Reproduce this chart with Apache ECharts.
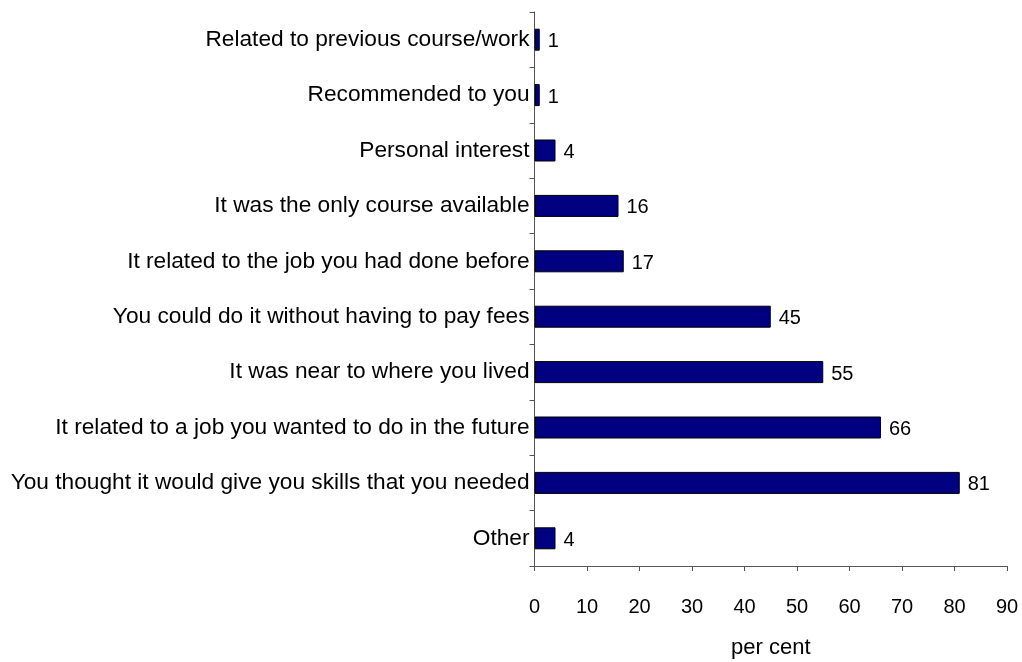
<!DOCTYPE html>
<html><head><meta charset="utf-8">
<script src="https://cdn.jsdelivr.net/npm/echarts@6/dist/echarts.min.js"></script>
<style>html,body{margin:0;padding:0;background:#fff}#c{width:1022px;height:662px}</style>
</head><body><div id="c"></div>
<script>
const categories = [
  "Related to previous course/work",
  "Recommended to you",
  "Personal interest",
  "It was the only course available",
  "It related to the job you had done before",
  "You could do it without having to pay fees",
  "It was near to where you lived",
  "It related to a job you wanted to do in the future",
  "You thought it would give you skills that you needed",
  "Other"
];
const values = [1, 1, 4, 16, 17, 45, 55, 66, 81, 4];
const xTicks = [0, 10, 20, 30, 40, 50, 60, 70, 80, 90];
const xTitle = "per cent";

const chart = echarts.init(document.getElementById('c'));
const font = 'Liberation Sans, Arial, sans-serif';
chart.setOption({
  animation: false,
  grid: { left: 534.5, right: 15, top: 12, bottom: 96, containLabel: false, outerBoundsMode: 'none' },
  xAxis: {
    type: 'value', min: xTicks[0], max: xTicks[xTicks.length - 1], interval: 10,
    name: xTitle, nameLocation: 'middle', nameGap: 71,
    nameTextStyle: { fontFamily: font, fontSize: 22, color: '#000' },
    axisLine: { show: true, lineStyle: { color: '#555', width: 1 } },
    axisTick: { show: true, length: 5, lineStyle: { color: '#555' } },
    axisLabel: { fontFamily: font, fontSize: 20, color: '#000', margin: 31 },
    splitLine: { show: false }
  },
  yAxis: {
    type: 'category', data: categories, inverse: true,
    axisLine: { show: true, lineStyle: { color: '#555', width: 1 } },
    axisTick: { show: true, length: 5, alignWithLabel: false, lineStyle: { color: '#555' } },
    axisLabel: { fontFamily: font, fontSize: 22.7, color: '#000', margin: 5 }
  },
  series: [{
    type: 'bar', data: values, barWidth: 22,
    itemStyle: { color: '#000080', borderColor: '#000', borderWidth: 1 },
    label: { show: true, position: 'right', distance: 8, offset: [0, 2], fontFamily: font, fontSize: 20, color: '#000' }
  }]
});
</script></body></html>
